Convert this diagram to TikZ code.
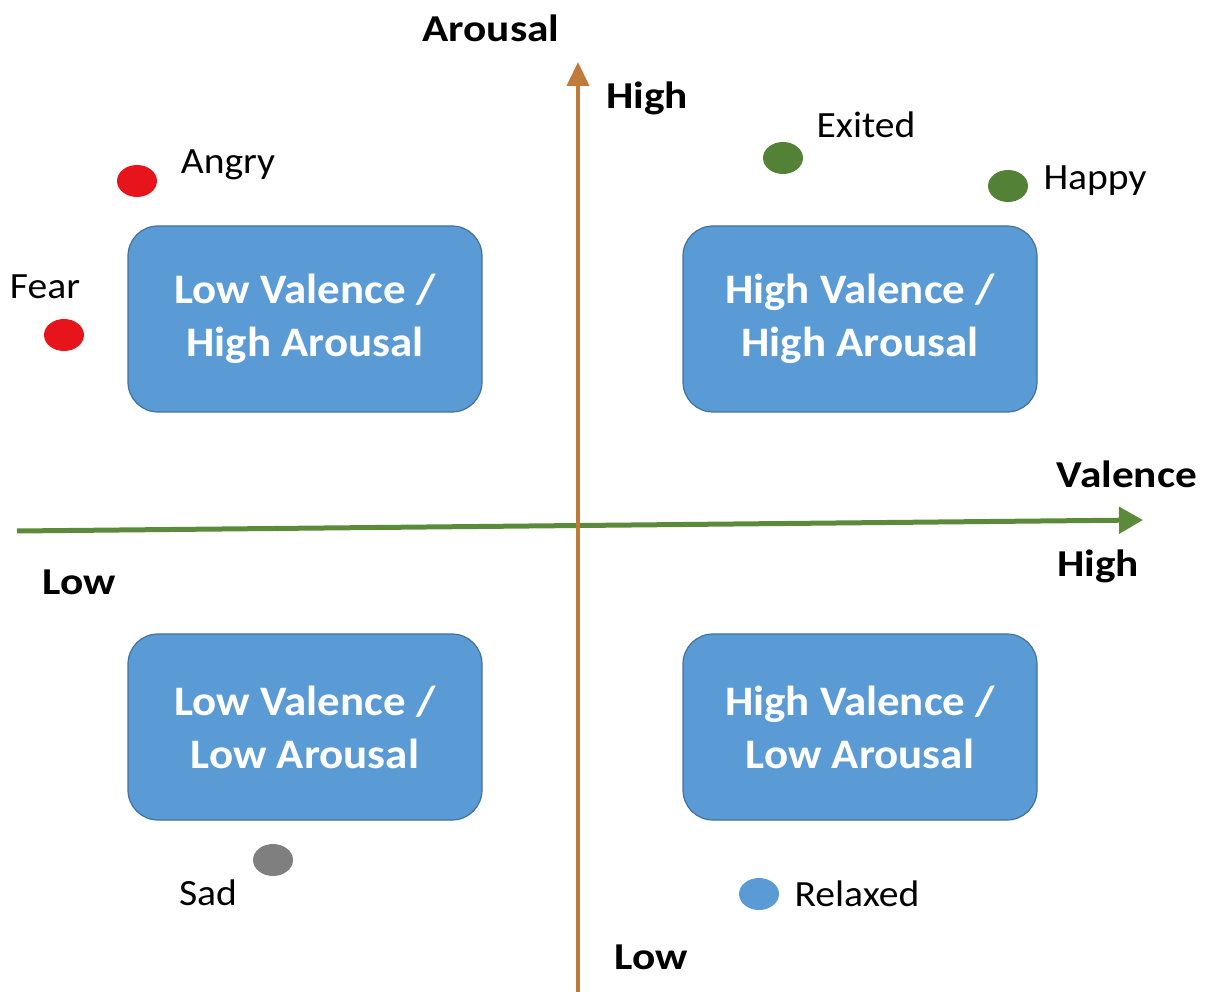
\documentclass[tikz,border=0pt]{standalone}
\usepackage{fontspec}
\setmainfont{Carlito}
\newfontfamily\boxfont[FakeStretch=1.07]{Carlito}
\newfontfamily\axfont[FakeStretch=1.14]{Carlito}
\newfontfamily\emofont[FakeStretch=1.07]{Carlito}
\usetikzlibrary{shapes.geometric,arrows.meta}
\definecolor{boxblue}{HTML}{5B9BD5}
\definecolor{boxedge}{HTML}{41719C}
\definecolor{axgreen}{HTML}{5A8A3A}
\definecolor{axorange}{HTML}{C27A3A}
\definecolor{dotred}{HTML}{E8141B}
\definecolor{dotgreen}{HTML}{538135}
\definecolor{dotgray}{HTML}{7F7F7F}
\definecolor{dotblue}{HTML}{5B9BD5}
\begin{document}
\begin{tikzpicture}[x=1pt,y=-1pt,
  quad/.style={draw=boxedge,line width=1.2pt,fill=boxblue,rounded corners=30pt,
    minimum width=354pt,minimum height=186pt,text=white,align=center,
    font=\boxfont\fontsize{42}{53}\selectfont\bfseries},
  dot/.style={ellipse,minimum width=40pt,minimum height=32pt,inner sep=0pt},
  axlab/.style={font=\axfont\fontsize{38}{44}\selectfont\bfseries,inner sep=0pt},
  emo/.style={font=\emofont\fontsize{37}{42}\selectfont,inner sep=0pt}]
\useasboundingbox (0,0) rectangle (1219,992);
% quadrant boxes
\node[quad] (lvha) at (305,319) {Low Valence /\\High Arousal};
\node[quad] (hvha) at (860,319) {High Valence /\\High Arousal};
\node[quad] (lvla) at (305,727) {Low Valence /\\Low Arousal};
\node[quad] (hvla) at (860,727) {High Valence /\\Low Arousal};
% axes
\coordinate (vl) at (17,531);
\coordinate (vr) at (1143,520);
\coordinate (ab) at (578,992);
\coordinate (at) at (578,62);
\draw[axgreen,line width=5pt,-{Triangle[length=24pt,width=26pt]}] (vl) -- (vr);
\draw[axorange,line width=4pt,-{Triangle[length=24pt,width=22pt]}] (ab) -- (at);
% axis labels
\node[axlab] (tarousal) at (491,28) {Arousal};
\node[axlab] (thigh1) at (647,98) {High};
\node[axlab] (tvalence) at (1127,474) {Valence};
\node[axlab] (thigh2) at (1098,566) {High};
\node[axlab] (tlow1) at (79,582) {Low};
\node[axlab] (tlow2) at (651,957) {Low};
% dots
\node[dot,fill=dotred] (angry) at (137,181) {};
\node[dot,fill=dotred] (fear) at (64,335) {};
\node[dot,fill=dotgreen] (exited) at (783,158) {};
\node[dot,fill=dotgreen] (happy) at (1008,186) {};
\node[dot,fill=dotgray] (sad) at (273,860) {};
\node[dot,fill=dotblue] (relaxed) at (759,894) {};
% emotion labels
\node[emo] (tangry) at (228,165) {Angry};
\node[emo] (tfear) at (45,287) {Fear};
\node[emo] (texited) at (866,125) {Exited};
\node[emo] (thappy) at (1095,181) {Happy};
\node[emo] (tsad) at (208,893) {Sad};
\node[emo] (trelaxed) at (857,894) {Relaxed};
\end{tikzpicture}
\end{document}
